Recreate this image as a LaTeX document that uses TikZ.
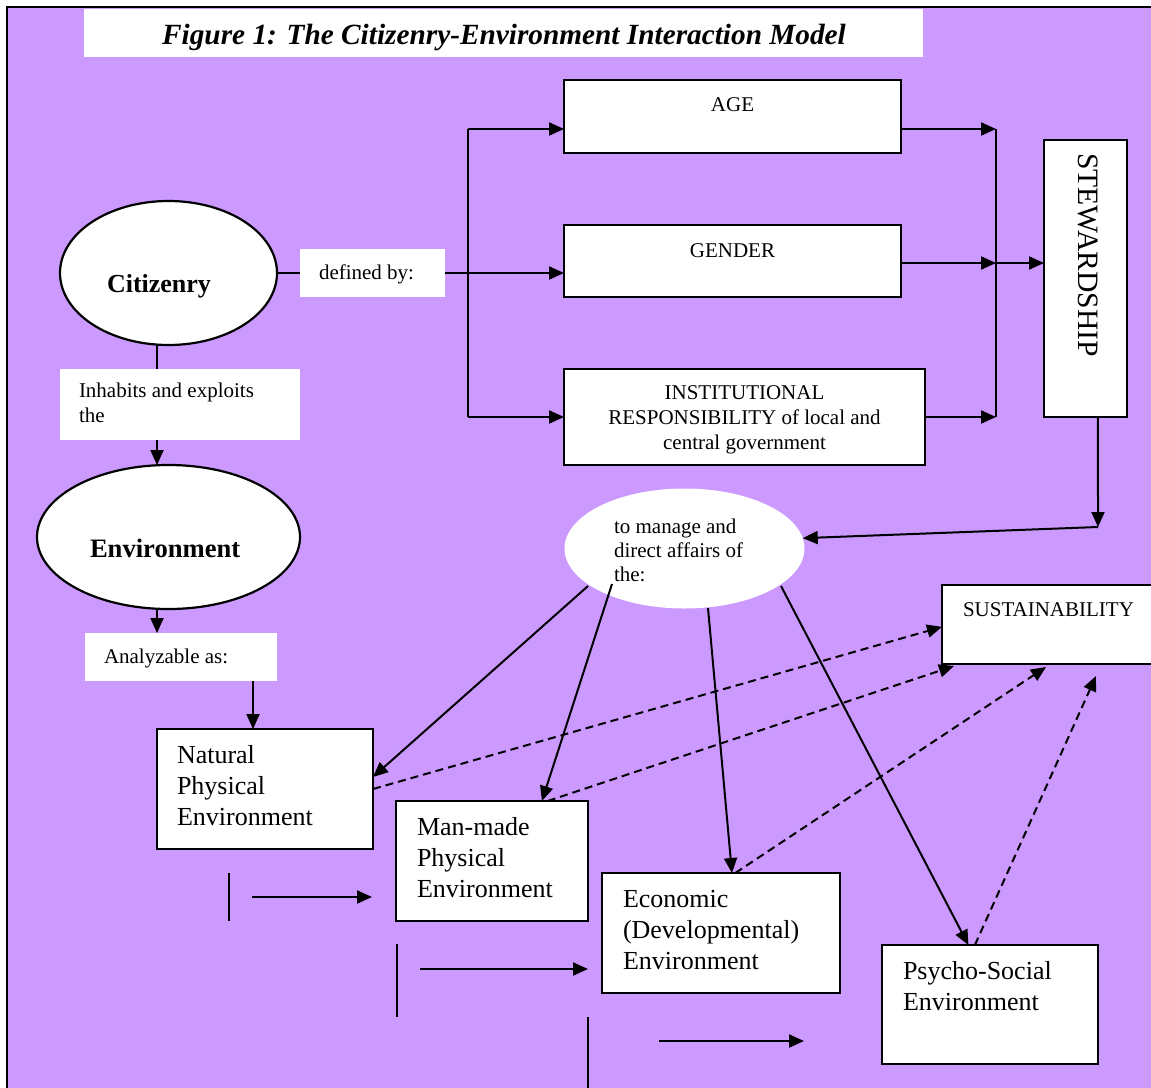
\documentclass[tikz,border=0pt]{standalone}
\usepackage{fontspec}
\setmainfont{Liberation Serif}
\usetikzlibrary{arrows.meta,shapes.geometric,calc}
\definecolor{bgpurple}{HTML}{CC99FF}
\newcommand\fsm{\fontsize{21}{25}\selectfont}
\newcommand\fmg{\fontsize{21}{24}\selectfont}
\newcommand\fbg{\fontsize{26}{31}\selectfont}
\begin{document}
\begin{tikzpicture}[x=1pt,y=-1pt,
  tip/.style={-{Triangle[length=15pt,width=13pt]}},
  arr/.style={line width=2pt,tip},
  ln/.style={line width=2pt},
  thin/.style={line width=1.6pt},
  dsh/.style={line width=2pt,dash pattern=on 8pt off 5pt,tip},
  box/.style={draw,line width=2.2pt,fill=white,inner sep=0pt,outer sep=0pt},
  wbox/.style={fill=white,inner sep=0pt,outer sep=0pt},
  ell/.style={ellipse,fill=white,inner sep=0pt,outer sep=0pt},
  txt/.style={inner sep=0pt,outer sep=0pt,anchor=base west,align=left},
  ctxt/.style={inner sep=0pt,outer sep=0pt,anchor=base,align=center}]
\useasboundingbox (0,0) rectangle (1151,1087);
% background and frame
\fill[bgpurple] (8,8) rectangle (1153,1089);
\draw[line width=2.5pt] (7,1089) -- (7,7) -- (1153,7);
% title
\node[wbox,minimum width=839pt,minimum height=48pt] (title) at (503.5,33) {};
\node[ctxt,font=\fontsize{29.3}{34}\selectfont\bfseries\itshape] (titleT) at (504,44) {Figure 1: The Citizenry-Environment Interaction Model};
% left column
\node[ell,draw,line width=2.2pt,minimum width=217pt,minimum height=144pt] (cit) at (168.5,273) {};
\node[txt,font=\fbg\bfseries] (citT) at (107,292) {Citizenry};
\node[wbox,minimum width=145pt,minimum height=48pt] (def) at (372.5,273) {};
\node[txt,font=\fsm] (defT) at (319,279) {defined by:};
\node[wbox,minimum width=240pt,minimum height=71pt] (inh) at (180,404.5) {};
\node[txt,font=\fsm] (inhT) at (79,422) {Inhabits and exploits\\the};
\node[ell,draw,line width=2.2pt,minimum width=263pt,minimum height=144pt] (env) at (168.5,537) {};
\node[txt,font=\fontsize{26.6}{31}\selectfont\bfseries] (envT) at (90,557) {Environment};
\node[wbox,minimum width=192pt,minimum height=48pt] (ana) at (181,657) {};
\node[txt,font=\fsm] (anaT) at (104,663) {Analyzable as:};
% attribute boxes
\node[box,minimum width=337pt,minimum height=73pt] (age) at (732.5,116.5) {};
\node[ctxt,font=\fsm] (ageT) at (732.5,111) {AGE};
\node[box,minimum width=337pt,minimum height=72pt] (gender) at (732.5,261) {};
\node[ctxt,font=\fsm] (genderT) at (732.5,257) {GENDER};
\node[box,minimum width=361pt,minimum height=96pt] (inst) at (744.5,417) {};
\node[ctxt,font=\fsm] (instT) at (744.5,449) {INSTITUTIONAL\\RESPONSIBILITY of local and\\central government};
\node[box,minimum width=83pt,minimum height=277pt] (stew) at (1085.5,278.5) {};
\node[txt,rotate=-90,font=\fontsize{29.6}{33}\selectfont] (stewT) at (1078,153) {STEWARDSHIP};
% manage ellipse
\node[ell,minimum width=240pt,minimum height=120pt] (man) at (684.5,548.5) {};
\node[txt,font=\fmg] (manT) at (614,581) {to manage and\\direct affairs of\\the:};
\node[box,minimum width=211pt,minimum height=79pt] (sus) at (1047.5,624.5) {};
\node[txt,font=\fsm] (susT) at (963,616) {SUSTAINABILITY};
% environment boxes
\node[box,minimum width=216pt,minimum height=120pt] (nat) at (265,789) {};
\node[txt,font=\fbg] (natT) at (177,825) {Natural\\Physical\\Environment};
\node[box,minimum width=192pt,minimum height=120pt] (mm) at (492,861) {};
\node[txt,font=\fbg] (mmT) at (417,897) {Man-made\\Physical\\Environment};
\node[box,minimum width=238pt,minimum height=120pt] (eco) at (721,933) {};
\node[txt,font=\fbg] (ecoT) at (623,969) {Economic\\(Developmental)\\Environment};
\node[box,minimum width=216pt,minimum height=119pt] (psy) at (990,1004.5) {};
\node[txt,font=\fbg] (psyT) at (903,1010) {Psycho-Social\\Environment};
% helper coordinates
\coordinate (lx) at (157,0);
\coordinate (ax) at (253,0);
\coordinate (bt) at (468,129);
\coordinate (bb) at (468,417);
\coordinate (rt) at (996,129);
\coordinate (rm) at (996,263);
\coordinate (rb) at (996,417);
\coordinate (sb) at ($(stew.south west)!0.65!(stew.south east)$);
\coordinate (sc) at (1098,527);
\coordinate (m1) at ($(man.center)+(-96.5,37.5)$);
\coordinate (m2) at ($(man.center)+(-72.5,35.5)$);
\coordinate (m3) at ($(man.center)+(23.5,59.5)$);
\coordinate (m4) at ($(man.center)+(96.5,37.5)$);
% connectors: left column
\draw[ln] (cit.east) -- (def.west);
\draw[ln] (cit.south -| lx) -- (inh.north -| lx);
\draw[arr] (inh.south -| lx) -- (env.north -| lx);
\draw[arr] (env.south -| lx) -- (ana.north -| lx);
\draw[arr] (ana.south -| ax) -- (nat.north -| ax);
% connectors: attributes
\draw[arr] (def.east) -- (def.east -| gender.west);
\draw[ln] (bt) -- (bb);
\draw[arr] (bt) -- (bt -| age.west);
\draw[arr] (bb) -- (inst.west);
\draw[arr] (rt -| age.east) -- (rt);
\draw[arr] (rm -| gender.east) -- (rm);
\draw[arr] (inst.east) -- (rb);
\draw[ln] (rt) -- (rb);
\draw[arr] (rm) -- (rm -| stew.west);
\draw[arr] (sb) -- (sc);
\draw[arr] (sc) -- (man.5);
% connectors: manage to environments
\draw[arr] (m1) -- ($(nat.north east)!0.4!(nat.south east)$);
\draw[arr] (m2) -- ($(mm.north west)!0.76!(mm.north east)$);
\draw[arr] (m3) -- ($(eco.north west)!0.546!(eco.north east)$);
\draw[arr] (m4) -- ($(psy.north west)!0.40!(psy.north east)$);
% dashed to sustainability
\draw[dsh] (nat.east) -- ($(sus.north west)!0.53!(sus.south west)$);
\draw[dsh] ($(mm.north west)!0.79!(mm.north east)$) -- ($(sus.south west)+(12,2)$);
\draw[dsh] ($(eco.north west)!0.56!(eco.north east)$) -- ($(sus.south west)+(104,3)$);
\draw[dsh] ($(psy.north west)!0.43!(psy.north east)$) -- ($(sus.south west)+(154,12)$);
% stray marks at bottom
\coordinate (s1a) at (229,873); \coordinate (s1b) at (229,921);
\coordinate (s1c) at (252,897); \coordinate (s1d) at (372,897);
\coordinate (s2a) at (397,944); \coordinate (s2b) at (397,1017);
\coordinate (s2c) at (420,969); \coordinate (s2d) at (588,969);
\coordinate (s3a) at (588,1017); \coordinate (s3b) at (588,1092);
\coordinate (s3c) at (659,1041); \coordinate (s3d) at (804,1041);
\draw[thin] (s1a) -- (s1b);
\draw[arr] (s1c) -- (s1d);
\draw[thin] (s2a) -- (s2b);
\draw[arr] (s2c) -- (s2d);
\draw[thin] (s3a) -- (s3b);
\draw[arr] (s3c) -- (s3d);
\end{tikzpicture}
\end{document}
